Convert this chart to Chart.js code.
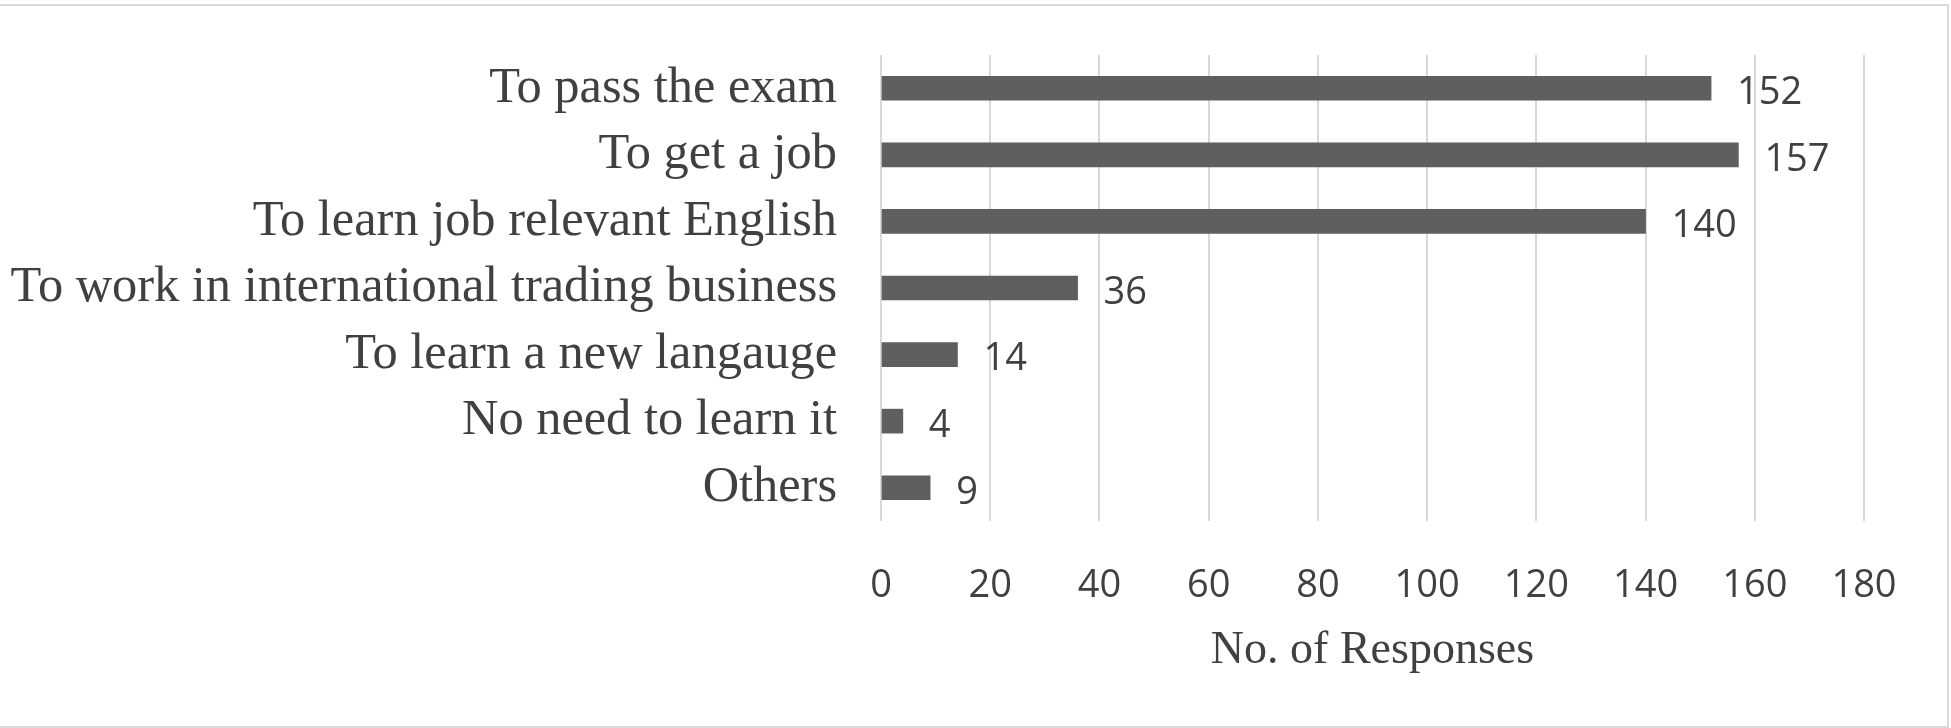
<!DOCTYPE html>
<html>
<head>
<meta charset="utf-8">
<script src="https://cdn.jsdelivr.net/npm/chart.js@4.4.1/dist/chart.umd.min.js"></script>
<style>
  html, body { margin: 0; padding: 0; background: #ffffff; }
  #wrap { width: 1951px; height: 728px; position: relative; }
</style>
</head>
<body>
<div id="wrap"><canvas id="c" width="1951" height="728"></canvas></div>
<script>
// ---- data ----
const categories = [
  'To pass the exam',
  'To get a job',
  'To learn job relevant English',
  'To work in international trading business',
  'To learn a new langauge',
  'No need to learn it',
  'Others'
];
const responses = [152, 157, 140, 36, 14, 4, 9];
const xTickValues = [0, 20, 40, 60, 80, 100, 120, 140, 160, 180];
const xAxisTitle = 'No. of Responses';

// ---- styles ----
const barColor = '#5f5f5f';
const gridColor = '#d9d9d9';
const textColor = '#404040';
const serif = "'Liberation Serif', 'Times New Roman', serif";
const sans = "'Open Sans', 'Noto Sans', sans-serif";

const frame = {
  id: 'frame',
  beforeDraw(chart) {
    const ctx = chart.ctx;
    ctx.save();
    ctx.fillStyle = '#ffffff';
    ctx.fillRect(0, 0, chart.width, chart.height);
    ctx.strokeStyle = gridColor;
    ctx.lineWidth = 2;
    ctx.strokeRect(-5, 5, chart.width - 3 + 5, chart.height - 6);
    ctx.restore();
  }
};

const valueLabels = {
  id: 'valueLabels',
  afterDatasetsDraw(chart) {
    const ctx = chart.ctx;
    ctx.save();
    ctx.font = '38px ' + sans;
    ctx.fillStyle = textColor;
    ctx.textAlign = 'left';
    ctx.textBaseline = 'middle';
    chart.getDatasetMeta(0).data.forEach((bar, i) => {
      ctx.fillText(String(responses[i]), bar.x + 26, bar.y + 5);
    });
    ctx.restore();
  }
};

new Chart(document.getElementById('c'), {
  type: 'bar',
  data: {
    labels: categories,
    datasets: [{
      data: responses,
      backgroundColor: barColor,
      borderWidth: 0,
      barThickness: 24
    }]
  },
  options: {
    indexAxis: 'y',
    responsive: false,
    animation: false,
    devicePixelRatio: 1,
    layout: { padding: { left: 0, right: 87, top: 55, bottom: 0 } },
    plugins: {
      legend: { display: false },
      tooltip: { enabled: false }
    },
    scales: {
      y: {
        type: 'category',
        grid: { display: false, drawTicks: false },
        border: { display: false },
        ticks: {
          color: textColor,
          font: { family: serif, size: 50.4 },
          padding: 44
        },
        afterFit(scale) {
          scale.width = 881;
          scale.paddingTop = 0;
          scale.paddingBottom = 0;
        }
      },
      x: {
        type: 'linear',
        min: 0,
        max: 180,
        afterBuildTicks(scale) { scale.ticks = xTickValues.map(v => ({ value: v })); },
        grid: { color: gridColor, lineWidth: 2, drawTicks: false },
        border: { display: false },
        ticks: {
          color: textColor,
          font: { family: sans, size: 38 },
          padding: 42,
          maxRotation: 0
        },
        title: {
          display: true,
          text: xAxisTitle,
          color: textColor,
          font: { family: serif, size: 46 },
          padding: { top: 0, bottom: 49 }
        },
        afterFit(scale) {
          scale.height = 207;
          scale.paddingLeft = 0;
          scale.paddingRight = 0;
        }
      }
    }
  },
  plugins: [frame, valueLabels]
});
</script>
</body>
</html>
